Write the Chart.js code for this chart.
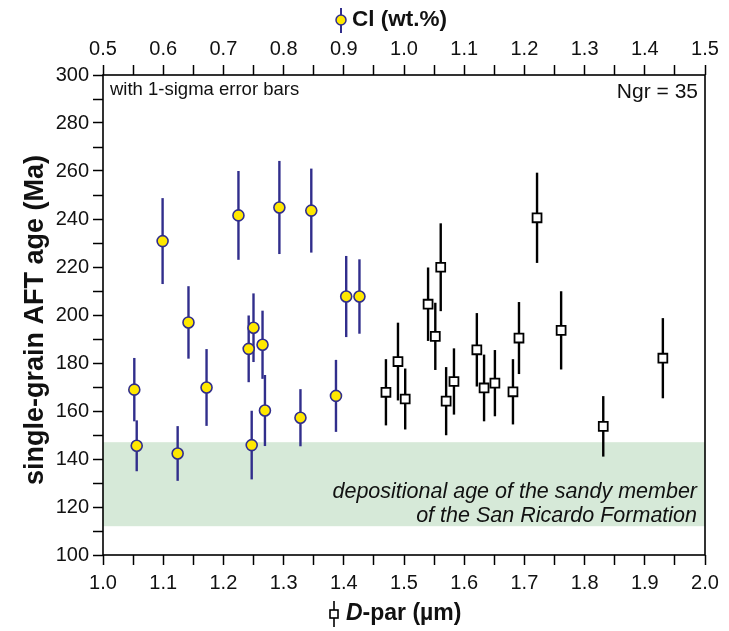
<!DOCTYPE html>
<html>
<head>
<meta charset="utf-8">
<script src="https://cdn.jsdelivr.net/npm/chart.js@4.4.0/dist/chart.umd.min.js"></script>
<style>
html, body { margin: 0; padding: 0; background: #fff; }
#wrap { width: 729px; height: 631px; }
</style>
</head>
<body>
<div id="wrap"><canvas id="chart" width="729" height="631"></canvas></div>
<script>
// Cl (wt.%) grains - top axis
const clValues = [0.552, 0.556, 0.599, 0.624, 0.642, 0.672, 0.725, 0.742, 0.750, 0.747, 0.765, 0.769, 0.793, 0.828, 0.846, 0.887, 0.904, 0.926];
const clAges   = [168.9, 145.5, 230.8, 142.3, 196.9, 169.8, 241.5, 185.9, 194.7, 145.8, 187.6, 160.2, 244.8, 157.2, 243.5, 166.3, 207.7, 207.7];
const clErrors = [13.2, 10.6, 17.9, 11.4, 15.1, 16.0, 18.5, 13.9, 14.3, 14.3, 14.2, 14.8, 19.4, 11.9, 17.5, 15.0, 16.9, 15.5];

// D-par (um) grains - bottom axis
const dparValues = [1.470, 1.490, 1.502, 1.540, 1.552, 1.561, 1.570, 1.583, 1.621, 1.633, 1.651, 1.681, 1.691, 1.721, 1.761, 1.831, 1.930];
const dparAges   = [167.8, 180.6, 165.0, 204.5, 191.1, 219.9, 164.1, 172.3, 185.5, 169.6, 171.6, 168.0, 190.4, 240.5, 193.6, 153.6, 182.0];
const dparErrors = [13.8, 16.2, 12.7, 15.3, 14.0, 18.3, 14.2, 13.8, 15.3, 13.9, 13.8, 13.6, 15.0, 18.8, 16.3, 12.6, 16.7];

const depositionalBand = [112, 147];
const ageRange = [100, 300];
const dparRange = [1.0, 2.0];
const clRange = [0.5, 1.5];

const FONT = "'Liberation Sans', Arial, sans-serif";
const BLUE = '#312e8c';
const YELLOW = '#ffe800';

function toPoints(xs, ys, errs) {
    return xs.map((x, i) => ({ x: x, y: ys[i], err: errs[i] }));
}

// green band + its caption
const bandPlugin = {
    id: 'band',
    beforeDatasetsDraw(chart) {
        const { ctx, chartArea, scales } = chart;
        const yTop = scales.y.getPixelForValue(depositionalBand[1]);
        const yBot = scales.y.getPixelForValue(depositionalBand[0]);
        ctx.save();
        ctx.fillStyle = '#d6e9d8';
        ctx.fillRect(chartArea.left, yTop, chartArea.right - chartArea.left, yBot - yTop);
        ctx.fillStyle = '#111';
        ctx.font = 'italic 21.5px ' + FONT;
        ctx.textAlign = 'right';
        ctx.textBaseline = 'middle';
        ctx.fillText('depositional age of the sandy member', chartArea.right - 8, 492);
        ctx.fillText('of the San Ricardo Formation', chartArea.right - 8, 516);
        ctx.restore();
    }
};

// vertical 1-sigma error bars
const errorBarPlugin = {
    id: 'errorBars',
    beforeDatasetsDraw(chart) {
        const { ctx, scales } = chart;
        ctx.save();
        chart.data.datasets.forEach((ds) => {
            const xScale = scales[ds.xAxisID];
            ctx.strokeStyle = ds.errorColor;
            ctx.lineWidth = 2.4;
            ds.data.forEach((p) => {
                const px = xScale.getPixelForValue(p.x);
                ctx.beginPath();
                ctx.moveTo(px, scales.y.getPixelForValue(p.y - p.err));
                ctx.lineTo(px, scales.y.getPixelForValue(p.y + p.err));
                ctx.stroke();
            });
        });
        ctx.restore();
    }
};

// frame, notes and axis titles with their symbols
const framePlugin = {
    id: 'frame',
    afterDraw(chart) {
        const { ctx, chartArea } = chart;
        ctx.save();
        ctx.strokeStyle = '#000';
        ctx.lineWidth = 1.6;
        ctx.strokeRect(chartArea.left, chartArea.top, chartArea.right - chartArea.left, chartArea.bottom - chartArea.top);

        ctx.fillStyle = '#111';
        ctx.textBaseline = 'middle';
        ctx.font = '18.5px ' + FONT;
        ctx.textAlign = 'left';
        ctx.fillText('with 1-sigma error bars', chartArea.left + 7, 90);
        ctx.font = '21px ' + FONT;
        ctx.textAlign = 'right';
        ctx.fillText('Ngr = 35', chartArea.right - 7, 92);

        // y title
        ctx.save();
        ctx.translate(36, 320);
        ctx.rotate(-Math.PI / 2);
        ctx.textAlign = 'center';
        ctx.font = 'bold 27px ' + FONT;
        ctx.fillText('single-grain AFT age (Ma)', 0, 0);
        ctx.restore();

        // top title: Cl (wt.%)
        ctx.textAlign = 'left';
        ctx.font = 'bold 22.5px ' + FONT;
        ctx.fillText('Cl (wt.%)', 352, 20);
        ctx.strokeStyle = BLUE;
        ctx.lineWidth = 2;
        ctx.beginPath();
        ctx.moveTo(341, 8);
        ctx.lineTo(341, 33);
        ctx.stroke();
        ctx.beginPath();
        ctx.arc(341, 20, 5, 0, Math.PI * 2);
        ctx.fillStyle = YELLOW;
        ctx.fill();
        ctx.lineWidth = 1.5;
        ctx.stroke();

        // bottom title: D-par (um)
        ctx.fillStyle = '#111';
        ctx.font = 'italic bold 23px ' + FONT;
        ctx.fillText('D', 346, 614);
        const dW = ctx.measureText('D').width;
        ctx.font = 'bold 23px ' + FONT;
        ctx.fillText('-par (\u00b5m)', 346 + dW, 614);
        ctx.strokeStyle = '#000';
        ctx.lineWidth = 1.6;
        ctx.beginPath();
        ctx.moveTo(334, 601);
        ctx.lineTo(334, 627);
        ctx.stroke();
        ctx.fillStyle = '#fff';
        ctx.fillRect(330, 610, 8, 8);
        ctx.strokeRect(330, 610, 8, 8);
        ctx.restore();
    }
};

function axisTicks(decimals, every) {
    return {
        color: '#111',
        font: { family: FONT, size: 20 },
        autoSkip: false,
        maxRotation: 0,
        callback: function (value) {
            const v = Math.round(value * 100);
            return v % every === 0 ? value.toFixed(decimals) : '';
        }
    };
}

const gridStyle = {
    drawOnChartArea: false,
    drawTicks: true,
    tickLength: 10,
    tickWidth: 1.5,
    tickColor: '#000',
    color: '#000'
};

new Chart(document.getElementById('chart'), {
    type: 'scatter',
    data: {
        datasets: [
            {
                label: 'Cl (wt.%)',
                xAxisID: 'x2',
                yAxisID: 'y',
                data: toPoints(clValues, clAges, clErrors),
                errorColor: BLUE,
                pointStyle: 'circle',
                pointRadius: 5.5,
                pointHoverRadius: 5.5,
                backgroundColor: YELLOW,
                borderColor: BLUE,
                borderWidth: 1.6
            },
            {
                label: 'D-par (um)',
                xAxisID: 'x',
                yAxisID: 'y',
                data: toPoints(dparValues, dparAges, dparErrors),
                errorColor: '#000',
                pointStyle: 'rect',
                pointRadius: 6.3,
                pointHoverRadius: 6.3,
                backgroundColor: '#fff',
                borderColor: '#000',
                borderWidth: 1.8
            }
        ]
    },
    options: {
        responsive: false,
        animation: false,
        layout: { padding: { left: 0, right: 24, top: 0, bottom: 0 } },
        plugins: {
            legend: { display: false },
            tooltip: { enabled: false }
        },
        scales: {
            x: {
                type: 'linear',
                position: 'bottom',
                min: dparRange[0],
                max: dparRange[1],
                ticks: Object.assign(axisTicks(1, 10), { stepSize: 0.05, padding: 6 }),
                grid: gridStyle,
                border: { display: false },
                afterFit: (s) => { s.height = 76; }
            },
            x2: {
                type: 'linear',
                position: 'top',
                min: clRange[0],
                max: clRange[1],
                ticks: Object.assign(axisTicks(1, 10), { stepSize: 0.05, padding: 4 }),
                grid: gridStyle,
                border: { display: false },
                afterFit: (s) => { s.height = 75; }
            },
            y: {
                type: 'linear',
                min: ageRange[0],
                max: ageRange[1],
                ticks: {
                    stepSize: 10,
                    color: '#111',
                    font: { family: FONT, size: 20 },
                    autoSkip: false,
                    padding: 4,
                    callback: (value) => (value % 20 === 0 ? value : '')
                },
                grid: gridStyle,
                border: { display: false },
                afterFit: (s) => { s.width = 103; }
            }
        }
    },
    plugins: [bandPlugin, errorBarPlugin, framePlugin]
});
</script>
</body>
</html>
